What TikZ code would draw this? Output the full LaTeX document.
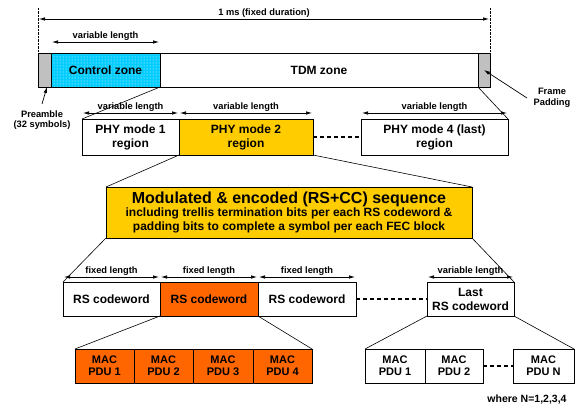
\documentclass[tikz,border=0pt]{standalone}
\usepackage{fontspec}
\setmainfont{Liberation Sans}
\usetikzlibrary{arrows.meta,patterns}
\definecolor{czone}{HTML}{00CCFF}
\definecolor{yel}{HTML}{FFCC00}
\definecolor{org}{HTML}{FF6600}
\definecolor{gry}{HTML}{C0C0C0}
\newcommand{\fsz}[2]{\fontsize{#1}{#2}\selectfont\bfseries}
\begin{document}
\begin{tikzpicture}[x=1pt,y=-1pt,
  blk/.style={draw, line width=0.8pt, inner sep=0pt, outer sep=0pt, align=center, font=\fsz{12}{14}},
  macbox/.style={blk, minimum height=34pt, font=\fsz{11}{12.3}},
  dim/.style={line width=0.7pt, {Latex[length=6pt,width=3.5pt]}-{Latex[length=6pt,width=3.5pt]}},
  dimlbl/.style={font=\fsz{9.3}{11}, inner sep=1pt, above},
  ptr/.style={line width=0.7pt, -{Latex[length=6pt,width=3.5pt]}},
  con/.style={line width=0.6pt},
  gap/.style={line width=1.2pt, dash pattern=on 4pt off 3pt},
  lbl/.style={font=\fsz{9.3}{10.5}, align=center, inner sep=0pt}]
\useasboundingbox (0,0) rectangle (587,408);

% frame row
\node[blk, fill=gry, minimum width=13pt, minimum height=34pt] (pre) at (44.5,70) {};
\node[blk, minimum width=109pt, minimum height=34pt, preaction={fill=czone}, pattern=dots, pattern color=white] (ctrl) at (105.5,70) {Control zone};
\node[blk, minimum width=318pt, minimum height=34pt] (tdm) at (319,70) {TDM zone};
\node[blk, fill=gry, minimum width=12pt, minimum height=34pt] (pad) at (484,70) {};

% boundaries and 1 ms
\draw[line width=0.4pt, densely dotted] (pre.north west) -- ++(0,-45) coordinate (tl);
\draw[line width=0.4pt, densely dotted] (pad.north east) -- ++(0,-45) coordinate (tr);
\draw[dim] ([yshift=34pt,xshift=1pt]pre.north west) -- ([yshift=34pt,xshift=-1pt]pad.north east)
  node[midway, dimlbl, inner sep=1.5pt] {1 ms (fixed duration)};
\draw[dim] ([yshift=11pt,xshift=1pt]ctrl.north west) -- ([yshift=11pt,xshift=-1pt]ctrl.north east)
  node[midway, dimlbl] {variable length};

% labels with pointers
\node[lbl] (prel) at (42,120) {Preamble\\(32 symbols)};
\coordinate (pret) at (42,104);
\draw[ptr] (pret) -- ([xshift=2.5pt]pre.south);
\node[lbl] (padl) at (552,98) {Frame\\Padding};
\coordinate (padt) at (527,98);
\draw[ptr] (padt) -- (pad.center);

% PHY row
\node[blk, minimum width=97pt, minimum height=36pt] (p1) at (130.5,137) {PHY mode 1\\region};
\node[blk, fill=yel, minimum width=134pt, minimum height=36pt] (p2) at (246,137) {PHY mode 2\\region};
\node[blk, minimum width=147pt, minimum height=36pt] (p4) at (434.5,137) {PHY mode 4 (last)\\region};
\draw[gap] (p2.east) -- (p4.west);
\foreach \n in {p1,p2,p4}{
  \draw[dim] ([yshift=6pt,xshift=1pt]\n.north west) -- ([yshift=6pt,xshift=-1pt]\n.north east)
    node[midway, dimlbl] {variable length};
}
\draw[con] (ctrl.south east) -- (p1.north west);
\draw[con] (pad.south west) -- (p4.north east);

% modulated sequence
\node[blk, fill=yel, minimum width=366pt, minimum height=51pt] (mod) at (289,212.5)
  {{\fsz{16}{18}Modulated \& encoded (RS+CC) sequence}\\[-1pt]
   {\fsz{12}{13.3}including trellis termination bits per each RS codeword \&}\\
   {\fsz{12}{13.3}padding bits to complete a symbol per each FEC block}};
\draw[con] (p2.south west) -- (mod.north west);
\draw[con] (p2.south east) -- (mod.north east);

% RS row
\node[blk, minimum width=97pt, minimum height=34pt] (r1) at (111.5,299) {RS codeword};
\node[blk, fill=org, minimum width=98pt, minimum height=34pt] (r2) at (209,299) {RS codeword};
\node[blk, minimum width=98pt, minimum height=34pt] (r3) at (307,299) {RS codeword};
\node[blk, minimum width=87pt, minimum height=34pt] (rl) at (470.5,299) {Last\\RS codeword};
\draw[gap] (r3.east) -- (rl.west);
\foreach \n in {r1,r2,r3}{
  \draw[dim] ([yshift=5pt,xshift=1pt]\n.north west) -- ([yshift=5pt,xshift=-1pt]\n.north east)
    node[midway, dimlbl] {fixed length};
}
\draw[dim] ([yshift=5pt,xshift=1pt]rl.north west) -- ([yshift=5pt,xshift=-1pt]rl.north east)
    node[midway, dimlbl] {variable length};
\draw[con] (mod.south west) -- (r1.north west);
\draw[con] (mod.south east) -- (rl.north east);

% MAC row
\node[macbox, fill=org, minimum width=59pt] (m1) at (104.5,366) {MAC\\PDU 1};
\node[macbox, fill=org, minimum width=59pt] (m2) at (163.5,366) {MAC\\PDU 2};
\node[macbox, fill=org, minimum width=60pt] (m3) at (223,366) {MAC\\PDU 3};
\node[macbox, fill=org, minimum width=59pt] (m4) at (282.5,366) {MAC\\PDU 4};
\node[macbox, minimum width=60pt] (n1) at (395,366) {MAC\\PDU 1};
\node[macbox, minimum width=58pt] (n2) at (454,366) {MAC\\PDU 2};
\node[macbox, minimum width=61pt] (nN) at (543.5,366) {MAC\\PDU N};
\draw[gap] (n2.east) -- (nN.west);
\draw[con] (r2.south west) -- (m1.north west);
\draw[con] (r2.south east) -- (m4.north east);
\draw[con] (rl.south west) -- (n1.north west);
\draw[con] (rl.south east) -- (nN.north east);

\node[lbl, font=\fsz{10.5}{12}] (where) at (527,400) {where N=1,2,3,4};
\end{tikzpicture}
\end{document}
